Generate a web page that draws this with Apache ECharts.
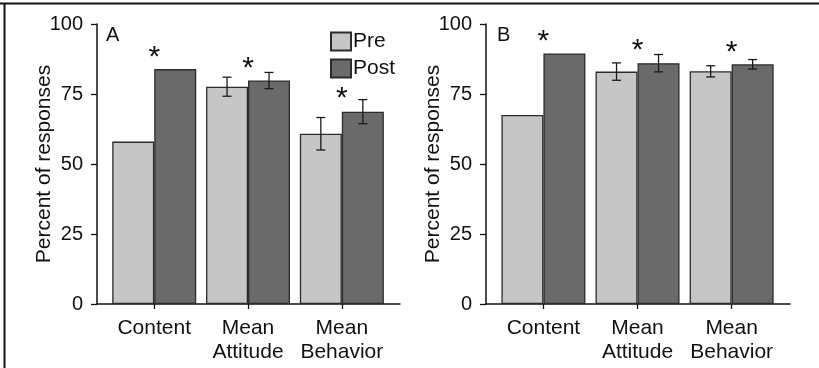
<!DOCTYPE html>
<html>
<head>
<meta charset="utf-8">
<script src="https://cdn.jsdelivr.net/npm/echarts@6/dist/echarts.min.js"></script>
<style>
html,body{margin:0;padding:0;background:#fff;}
#chart{width:819px;height:368px;}
</style>
</head>
<body>
<div id="chart"></div>
<script>
// ---- data ----
const categories = ['Content', 'Mean\nAttitude', 'Mean\nBehavior'];
const categoryPos = [1, 2, 3];
const yTicks = [0, 25, 50, 75, 100];
const panelLabels = ['A', 'B'];

const preA = [58, 77.6, 60.8];
const postA = [83.9, 79.8, 68.7];
const preAErr = [0, 3.4, 5.8];
const postAErr = [0, 2.9, 4.3];
const starA = [88, 84.2, 73.2];

const preB = [67.5, 83, 83.1];
const postB = [89.5, 86, 85.6];
const preBErr = [0, 3.1, 2.0];
const postBErr = [0, 3.1, 1.7];
const starB = [93.8, 90.3, 89.8];

// ---- styles ----
const FONT = 'Liberation Sans, Arial, Helvetica, sans-serif';
const PRE_COLOR = '#c6c6c6';
const POST_COLOR = '#6a6a6a';
const EDGE = '#2b2b2b';
const BAR_W = 42;

const chart = echarts.init(document.getElementById('chart'));

function pairs(vals) { return vals.map((v, i) => [categoryPos[i], v]); }
function triples(vals, errs) { return vals.map((v, i) => [categoryPos[i], v, errs[i]]); }

function errSeries(idx, name, vals, errs, offset) {
  return {
    type: 'custom', name: name + ' err', xAxisIndex: idx, yAxisIndex: idx, z: 5,
    silent: true, legendHoverLink: false,
    data: triples(vals, errs),
    encode: { x: 0, y: 1 },
    renderItem: function (params, api) {
      const x = api.value(0), y = api.value(1), e = api.value(2);
      if (!e) return null;
      const t = api.coord([x, y + e]);
      const b = api.coord([x, y - e]);
      const cx = t[0] + offset;
      const cap = 4.5;
      const st = { stroke: '#1a1a1a', lineWidth: 1.3 };
      return { type: 'group', children: [
        { type: 'line', shape: { x1: cx, y1: t[1], x2: cx, y2: b[1] }, style: st },
        { type: 'line', shape: { x1: cx - cap, y1: t[1], x2: cx + cap, y2: t[1] }, style: st },
        { type: 'line', shape: { x1: cx - cap, y1: b[1], x2: cx + cap, y2: b[1] }, style: st }
      ]};
    }
  };
}

function starSeries(idx, vals) {
  return {
    type: 'custom', name: 'star', xAxisIndex: idx, yAxisIndex: idx, z: 6, silent: true,
    data: pairs(vals), encode: { x: 0, y: 1 },
    renderItem: function (params, api) {
      const p = api.coord([api.value(0), api.value(1)]);
      return { type: 'text', x: p[0], y: p[1], style: {
        text: '*', fontSize: 30, fontFamily: FONT, fill: '#111',
        align: 'center', verticalAlign: 'middle' } };
    }
  };
}

function panelSeries(idx, pre, post, preErr, postErr, star) {
  return [
    { type: 'bar', name: 'Pre', xAxisIndex: idx, yAxisIndex: idx, data: pairs(pre),
      barWidth: BAR_W, barGap: '0%',
      itemStyle: { color: PRE_COLOR, borderColor: EDGE, borderWidth: 1.3 } },
    { type: 'bar', name: 'Post', xAxisIndex: idx, yAxisIndex: idx, data: pairs(post),
      barWidth: BAR_W, barGap: '0%',
      itemStyle: { color: POST_COLOR, borderColor: EDGE, borderWidth: 1.3 } },
    errSeries(idx, 'Pre', pre, preErr, -BAR_W / 2),
    errSeries(idx, 'Post', post, postErr, BAR_W / 2),
    starSeries(idx, star)
  ];
}

function xAxis(idx) {
  return {
    type: 'value', gridIndex: idx, min: 0.39, max: 3.62,
    splitLine: { show: false },
    axisLine: { show: true, lineStyle: { color: '#111', width: 1.5 } },
    axisTick: { show: true, customValues: categoryPos, length: 5, lineStyle: { color: '#111', width: 1.3 } },
    axisLabel: { customValues: categoryPos, margin: 12, fontSize: 21, lineHeight: 24,
      fontFamily: FONT, color: '#111',
      formatter: function (v) { const i = categoryPos.indexOf(Math.round(v)); return i >= 0 ? categories[i] : ''; } }
  };
}

function yAxis(idx) {
  return {
    type: 'value', gridIndex: idx, min: yTicks[0], max: yTicks[yTicks.length - 1], interval: 25,
    name: 'Percent of responses', nameLocation: 'middle', nameGap: 42, nameRotate: 90,
    nameMoveOverlap: false,
    nameTextStyle: { fontSize: 21, fontFamily: FONT, color: '#111' },
    splitLine: { show: false },
    axisLine: { show: true, lineStyle: { color: '#111', width: 1.5 } },
    axisTick: { show: true, length: 6, lineStyle: { color: '#111', width: 1.3 } },
    axisLabel: { margin: 14, fontSize: 20, fontFamily: FONT, color: '#111' }
  };
}

const option = {
  animation: false,
  backgroundColor: '#fff',
  title: [
    { text: panelLabels[0], left: 106, top: 25, textStyle: { fontSize: 20, fontWeight: 'normal', fontFamily: FONT, color: '#111' }, padding: 0 },
    { text: panelLabels[1], left: 497, top: 25, textStyle: { fontSize: 20, fontWeight: 'normal', fontFamily: FONT, color: '#111' }, padding: 0 }
  ],
  legend: {
    data: ['Pre', 'Post'], orient: 'vertical', left: 330, top: 31, itemGap: 6,
    itemWidth: 20, itemHeight: 18, icon: 'rect', padding: 0,
    textStyle: { fontSize: 21, fontFamily: FONT, color: '#111', padding: [0, 0, 0, -3] }
  },
  grid: [
    { left: 97, top: 24, width: 303, height: 280 },
    { left: 486, top: 24, width: 304, height: 280 }
  ],
  xAxis: [xAxis(0), xAxis(1)],
  yAxis: [yAxis(0), yAxis(1)],
  series: [].concat(
    panelSeries(0, preA, postA, preAErr, postAErr, starA),
    panelSeries(1, preB, postB, preBErr, postBErr, starB)
  ),
  graphic: [
    { type: 'line', shape: { x1: 0, y1: 3.5, x2: 819, y2: 3.5 }, style: { stroke: '#111', lineWidth: 2 } },
    { type: 'line', shape: { x1: 4.5, y1: 3, x2: 4.5, y2: 368 }, style: { stroke: '#111', lineWidth: 2 } }
  ]
};

chart.setOption(option);
</script>
</body>
</html>
